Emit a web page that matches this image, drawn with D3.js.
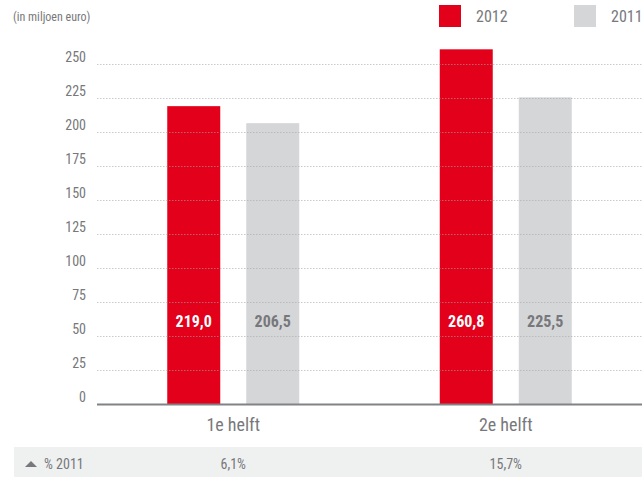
<!DOCTYPE html>
<html><head><meta charset="utf-8">
<script src="https://cdn.jsdelivr.net/npm/d3@7/dist/d3.min.js"></script>
<style>
body{margin:0;background:#fff;}
svg{display:block;font-family:"Liberation Sans Narrow","Roboto Condensed","Open Sans",sans-serif;}
</style></head>
<body><svg id="c" width="643" height="477"></svg>
<script>
const categories = ["1e helft", "2e helft"];
const seriesNames = ["2012", "2011"];
const values2012 = [219.0, 260.8];
const values2011 = [206.5, 225.5];
const changeLabels = ["6,1%", "15,7%"];
const yTicks = [0, 25, 50, 75, 100, 125, 150, 175, 200, 225, 250];
const unitLabel = "(in miljoen euro)";
const changeTitle = "% 2011";

(function(){
const colors = ["#e2001a", "#d5d6d8"];
const textGray = "#77787b";
const svg = d3.select("#c");
const mLeft = 97, mRight = 642, mTop = 64, mBottom = 404;

const y = d3.scaleLinear().domain([0, 250]).range([mBottom, mTop]);
const x0 = d3.scaleBand().domain(categories).range([mLeft, mRight]).padding(0);
const x1 = d3.scaleBand().domain(seriesNames).range([0, 132]).paddingInner(26/79).paddingOuter(0);

const fmt = v => d3.format(".1f")(v).replace(".", ",");

// bottom band
svg.append("rect").attr("x", 14).attr("y", 447).attr("width", 628).attr("height", 30).attr("fill", "#eff0f0");

// bars
const data = categories.map((c, i) => ({c, vals: [values2012[i], values2011[i]]}));
const g = svg.selectAll("g.grp").data(data).join("g").attr("class", "grp")
  .attr("transform", d => `translate(${x0(d.c) + x0.bandwidth()/2 - 66},0)`);
g.selectAll("rect").data(d => d.vals.map((v, j) => ({v, s: seriesNames[j], j}))).join("rect")
  .attr("x", d => x1(d.s)).attr("width", x1.bandwidth())
  .attr("y", d => y(d.v)).attr("height", d => y(0) - y(d.v))
  .attr("fill", d => colors[d.j]);

// gridlines (on top)
svg.selectAll("line.grid").data(yTicks.filter(t => t > 0)).join("line").attr("class", "grid")
  .attr("x1", mLeft).attr("x2", mRight).attr("y1", d => y(d) + 0.5).attr("y2", d => y(d) + 0.5)
  .attr("stroke", "#a6a6a6").attr("stroke-opacity", 0.6).attr("stroke-width", 1)
  .attr("stroke-dasharray", "1.5,1.5");

// baseline
svg.append("line").attr("x1", mLeft).attr("x2", mRight).attr("y1", y(0)+0.5).attr("y2", y(0)+0.5)
  .attr("stroke", "#808285").attr("stroke-width", 2);

// y tick labels
svg.selectAll("text.yt").data(yTicks).join("text").attr("class", "yt")
  .attr("x", 86).attr("y", d => y(d) - 2).attr("text-anchor", "end")
  .attr("font-size", 14).attr("fill", textGray).text(d => d);

// value labels
g.selectAll("text.val").data(d => d.vals.map((v, j) => ({v, s: seriesNames[j], j}))).join("text").attr("class", "val")
  .attr("x", d => x1(d.s) + x1.bandwidth()/2).attr("y", y(60) + 5)
  .attr("text-anchor", "middle").attr("font-size", 16).attr("font-weight", "bold")
  .attr("fill", d => d.j === 0 ? "#fff" : textGray).text(d => fmt(d.v));

// category labels
svg.selectAll("text.cat").data(categories).join("text").attr("class", "cat")
  .attr("x", d => x0(d) + x0.bandwidth()/2).attr("y", 431)
  .attr("text-anchor", "middle").attr("font-size", 18).attr("fill", textGray).text(d => d);

// change row
svg.append("path").attr("d", "M25,467 L31,461 L37,467 Z").attr("fill", textGray);
svg.append("text").attr("x", 44).attr("y", 469).attr("font-size", 14).attr("fill", textGray).text(changeTitle);
svg.selectAll("text.chg").data(changeLabels).join("text").attr("class", "chg")
  .attr("x", (d, i) => x0(categories[i]) + x0.bandwidth()/2).attr("y", 469)
  .attr("text-anchor", "middle").attr("font-size", 14).attr("fill", textGray).text(d => d);

// unit label
svg.append("text").attr("x", 13).attr("y", 21).attr("font-size", 12).attr("fill", textGray).text(unitLabel);

// legend
const legX = [439, 574];
seriesNames.forEach((s, i) => {
  svg.append("rect").attr("x", legX[i]).attr("y", 5).attr("width", 22).attr("height", 22).attr("fill", colors[i]);
  svg.append("text").attr("x", legX[i] + 37).attr("y", 22).attr("font-size", 16).attr("fill", textGray).text(s);
});
})();
</script></body></html>
